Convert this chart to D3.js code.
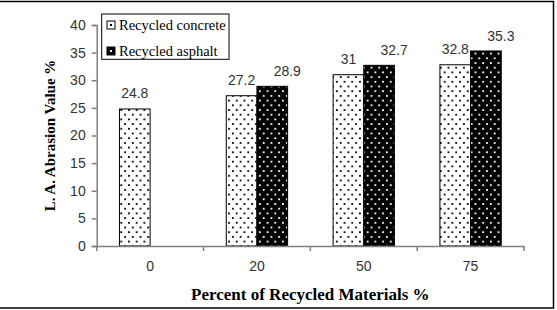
<!DOCTYPE html>
<html><head><meta charset="utf-8">
<script src="https://cdn.jsdelivr.net/npm/d3@7"></script>
<style>body{margin:0;background:#fff}svg{display:block}
.sans{font-family:"Liberation Sans",Arial,sans-serif}
.serif{font-family:"Liberation Serif","Times New Roman",serif}
</style>
</head><body><svg id="c" width="557" height="310"></svg>
<script>
const categories = ["0", "20", "50", "75"];
const seriesNames = ["Recycled concrete", "Recycled asphalt"];
const concrete = [24.8, 27.2, 31, 32.8];
const asphalt = [null, 28.9, 32.7, 35.3];
const yTicks = [0, 5, 10, 15, 20, 25, 30, 35, 40];

const svg = d3.select("#c");
const m = {left: 96.7, right: 524, top: 25, bottom: 246};

const defs = svg.append("defs");
function pat(id, bg, fg) {
  const p = defs.append("pattern").attr("id", id).attr("patternUnits","userSpaceOnUse")
    .attr("width",7.7).attr("height",9.4);
  p.append("rect").attr("width",7.7).attr("height",9.4).attr("fill",bg);
  p.append("rect").attr("x",1).attr("y",1).attr("width",1.8).attr("height",1.8).attr("fill",fg);
  p.append("rect").attr("x",4.85).attr("y",5.7).attr("width",1.8).attr("height",1.8).attr("fill",fg);
}
pat("pc", "#fff", "#000");
pat("pa", "#000", "#fff");

// frame
svg.append("rect").attr("x",-2).attr("y",1.5).attr("width",555.5).attr("height",306.5)
  .attr("fill","none").attr("stroke","#000").attr("stroke-width",1.5);

const x = d3.scaleBand().domain(categories).range([m.left, m.right]).padding(0);
const x1 = d3.scaleBand().domain(seriesNames).range([0, x.bandwidth()]).paddingOuter(0.742).paddingInner(0);
const y = d3.scaleLinear().domain([0, 40]).range([m.bottom, m.top]);

const data = categories.map((c,i)=>({c, vals:[concrete[i], asphalt[i]]}));
const fills = ["url(#pc)","url(#pa)"];

const g = svg.append("g");
data.forEach(d=>{
  d.vals.forEach((v,j)=>{
    if (v == null) return;
    const bx = x(d.c) + x1(seriesNames[j]);
    g.append("rect").attr("x", bx).attr("y", y(v)).attr("width", x1.bandwidth()).attr("height", y(0)-y(v))
      .attr("fill", fills[j]).attr("stroke","#000").attr("stroke-width",1);
    g.append("text").attr("class","sans").attr("x", bx + x1.bandwidth()/2 + (j===1?15:0)).attr("y", y(v) - (j===1?10:11))
      .attr("text-anchor","middle").attr("font-size",14).attr("fill","#333").text(v);
  });
});

// y axis
const ya = svg.append("g").attr("transform",`translate(${m.left},0)`)
  .call(d3.axisLeft(y).tickValues(yTicks).tickSize(5).tickPadding(6));
ya.attr("font-family", null);
ya.select(".domain").attr("stroke","#808080").attr("stroke-width",1.5);
ya.selectAll(".tick line").attr("stroke","#808080").attr("stroke-width",1.5);
ya.selectAll("text").attr("class","sans").attr("font-size",14).attr("fill","#333");

// x axis
const xa = svg.append("g").attr("transform",`translate(0,${m.bottom})`)
  .call(d3.axisBottom(x).tickSize(0).tickPadding(15));
xa.attr("font-family", null);
xa.select(".domain").attr("stroke","#808080").attr("stroke-width",1.5);
xa.selectAll("text").attr("class","sans").attr("font-size",14).attr("fill","#333");
const bounds = categories.map(c=>x(c)).concat([x(categories[categories.length-1])+x.bandwidth()]);
xa.selectAll(".bt").data(bounds).enter().append("line").attr("class","bt")
  .attr("x1",d=>d).attr("x2",d=>d).attr("y1",0).attr("y2",5).attr("stroke","#808080").attr("stroke-width",1.5);

// titles
svg.append("text").attr("class","serif").attr("transform",`translate(55,${(m.top+m.bottom)/2}) rotate(-90)`)
  .attr("text-anchor","middle").attr("font-weight","bold").attr("font-size",15).attr("fill","#000")
  .text("L. A. Abrasion Value %");
svg.append("text").attr("class","serif").attr("x",(m.left+m.right)/2).attr("y",300)
  .attr("text-anchor","middle").attr("font-weight","bold").attr("font-size",17).attr("fill","#000")
  .text("Percent of Recycled Materials %");

// legend
const lg = svg.append("g");
lg.append("rect").attr("x",101.7).attr("y",14).attr("width",127.3).attr("height",45.3)
  .attr("fill","#fff").attr("stroke","#000").attr("stroke-width",1);
seriesNames.forEach((s,i)=>{
  const cy = 25 + i*26;
  lg.append("rect").attr("x",107).attr("y",cy-4).attr("width",8).attr("height",8)
    .attr("fill", i===0?"#fff":"#000").attr("stroke","#000").attr("stroke-width",1);
  lg.append("rect").attr("x",110).attr("y",cy-1).attr("width",2).attr("height",2)
    .attr("fill", i===0?"#000":"#fff");
  lg.append("text").attr("class","serif").attr("x",119).attr("y",cy+4.5)
    .attr("font-size",14.5).attr("fill","#000").text(s);
});
</script></body></html>
